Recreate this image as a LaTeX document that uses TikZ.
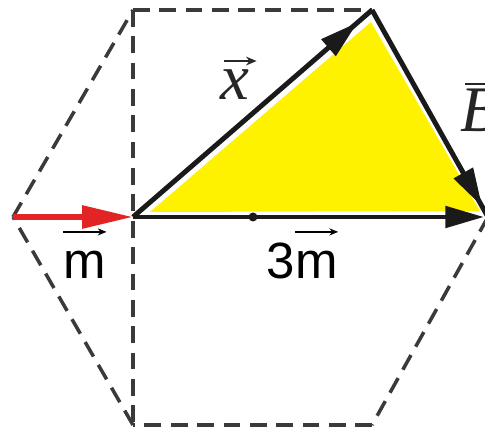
\documentclass[tikz,border=0pt]{standalone}
\usepackage{fontspec}
\newfontfamily\sansf{Liberation Sans}
\newfontfamily\seriff{Liberation Serif}
\usetikzlibrary{arrows.meta,decorations.markings}
\definecolor{redc}{HTML}{E32424}
\definecolor{dashc}{HTML}{3A3A3A}
\definecolor{vecc}{HTML}{1A1A1A}
\begin{document}
\begin{tikzpicture}[x=0.02cm,y=-0.02cm,
  hexedge/.style={draw=dashc, line width=2pt, dash pattern=on 9.5pt off 5.5pt},
  vecline/.style={draw=vecc, line width=2.8pt},
  bigtip/.style={-{Triangle[length=22pt,width=12pt]}},
  midtip/.style={postaction={decorate}, decoration={markings, mark=at position #1 with {\arrow{Triangle[length=22pt,width=12pt]}}}},
  sanslab/.style={font=\sansf\fontsize{29}{30}\selectfont, inner sep=0pt},
  seriflab/.style={font=\seriff\itshape\fontsize{37}{40}\selectfont, inner sep=0pt, text=black!85},
  smallarrow/.style={draw=black, line width=0.9pt, -{Stealth[length=5pt,width=4pt]}},
  labarrow/.style={draw=black!85, line width=1.1pt, -{Stealth[length=6pt,width=5pt]}}]
\useasboundingbox (0,0) rectangle (485,429);
\clip (0,0) rectangle (485,429);
\fill[white] (0,0) rectangle (485,429);
% hexagon vertices
\coordinate (A) at (13,217);
\coordinate (P) at (133,10);
\coordinate (C) at (372,10);
\coordinate (D) at (488,217);
\coordinate (E) at (372,425);
\coordinate (F) at (133,425);
\coordinate (O) at (133,217);
\coordinate (T) at (484,217);
\coordinate (Mid) at (253,217);
% yellow triangle
\fill[yellow] (150,212) -- (371,22) -- (480,211) -- cycle;
% dashed edges
\draw[hexedge] (A) -- (P);
\draw[hexedge] (P) -- (C);
\draw[hexedge] (D) -- (E);
\draw[hexedge] (E) -- (F);
\draw[hexedge] (F) -- (A);
\draw[hexedge] (P) -- (F);
% vectors
\draw[vecline, bigtip] (O) -- (T);
\draw[vecline, midtip=0.94] (O) -- (C);
\draw[vecline, midtip=0.95] (C) -- (D);
\fill[vecc] (Mid) circle (4.5);
\draw[draw=redc, line width=3.4pt, -{Triangle[length=29pt,width=12.5pt]}] (A) -- (O);
% labels
\node[sanslab, anchor=base] (m1) at (85,279) {m};
\draw[smallarrow] ([yshift=11pt]m1.north west) -- ([yshift=11pt]m1.north east);
\node[sanslab, anchor=base west] (n3) at (266,279) {3};
\node[sanslab, anchor=base west] (m3) at (n3.base east) {m};
\draw[smallarrow] ([yshift=11pt]m3.north west) -- ([yshift=11pt]m3.north east);
\node[seriflab, anchor=base west] (xl) at (220,100) {x};
\draw[labarrow] ([xshift=2pt,yshift=5pt]xl.north west) -- ([xshift=4pt,yshift=5pt]xl.north east);
\node[seriflab, anchor=base west] (bl) at (460,132) {B};
\draw[labarrow] ([xshift=3pt,yshift=3pt]bl.north west) -- ([xshift=6pt,yshift=3pt]bl.north east);
\end{tikzpicture}
\end{document}
